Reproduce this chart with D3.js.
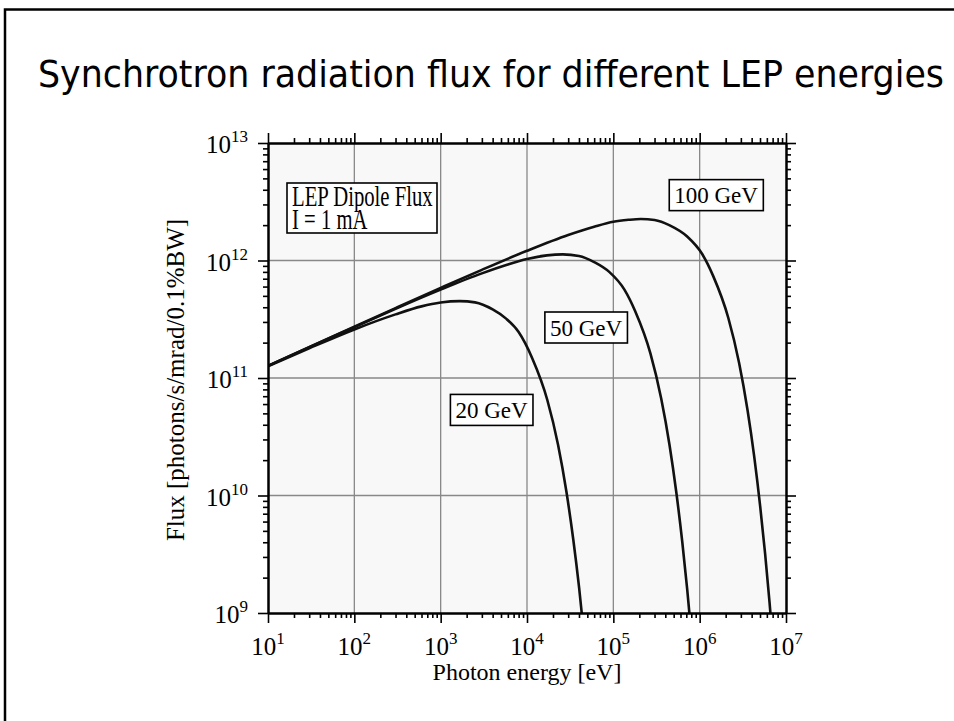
<!DOCTYPE html>
<html>
<head>
<meta charset="utf-8">
<script src="https://cdn.jsdelivr.net/npm/d3@7"></script>
<style>
  body { margin: 0; background: #fff; }
  svg { display: block; }
</style>
</head>
<body>
<div id="chart"></div>
<script>
// photon energy [eV] and flux [photons/s/mrad/0.1%BW]
var energy20 = [10, 30, 100, 300, 600, 1000, 1660, 2500, 4000, 5730, 8000, 11460, 17190, 22920, 28650, 34380, 40110, 45840]
var flux20 = [1.26e11, 1.79e11, 2.59e11, 3.48e11, 4.07e11, 4.39e11, 4.51e11, 4.40e11, 3.83e11, 3.20e11, 2.46e11, 1.48e11, 6.5e10, 2.69e10, 1.07e10, 4.2e9, 1.65e9, 6.4e8]

var energy50 = [10, 30, 100, 300, 1000, 3000, 6000, 10000, 17000, 26000, 40000, 60000, 89600, 134400, 179200, 268800, 358400, 448000, 537600, 627200, 716800, 806400]
var flux50 = [1.27e11, 1.83e11, 2.71e11, 3.88e11, 5.65e11, 7.77e11, 9.25e11, 1.03e12, 1.106e12, 1.128e12, 1.093e12, 9.7e11, 8.0e11, 5.65e11, 3.7e11, 1.62e11, 6.7e10, 2.68e10, 1.05e10, 4.1e9, 1.6e9, 6.2e8]

var energy100 = [10, 30, 100, 300, 1000, 3000, 10000, 30000, 60000, 100000, 150000, 208000, 300000, 450000, 716000, 1074000, 1432000, 2148000, 2864000, 3580000, 4296000, 5012000, 5728000, 6444000, 7160000]
var flux100 = [1.27e11, 1.83e11, 2.73e11, 3.93e11, 5.84e11, 8.33e11, 1.21e12, 1.65e12, 1.94e12, 2.14e12, 2.22e12, 2.255e12, 2.21e12, 1.99e12, 1.60e12, 1.13e12, 7.4e11, 3.24e11, 1.34e11, 5.36e10, 2.11e10, 8.2e9, 3.2e9, 1.24e9, 4.8e8]

var seriesNames = ['20 GeV', '50 GeV', '100 GeV']
var labelAt = [[3.88e3, 5.35e10], [4.82e4, 2.69e11], [1.55e6, 3.6e12]]   // where each curve label sits
var xExponents = [1, 2, 3, 4, 5, 6, 7]
var yExponents = [9, 10, 11, 12, 13]
var legendLines = ['LEP Dipole Flux', 'I = 1 mA']

var W = 954, H = 721
var margin = {left: 268, top: 143}
var width = 518, height = 470

var svg = d3.select('#chart').append('svg')
    .attr('width', W)
    .attr('height', H)

// slide frame
svg.append('path')
    .attr('d', 'M5,' + H + 'V9.5H' + W)
    .attr('fill', 'none')
    .attr('stroke', '#000')
    .attr('stroke-width', 2.5)

svg.append('text')
    .attr('x', 491)
    .attr('y', 87)
    .attr('text-anchor', 'middle')
    .attr('font-family', '"DejaVu Sans Condensed", "DejaVu Sans", sans-serif')
    .attr('font-size', 38)
    .attr('textLength', 906)
    .attr('lengthAdjust', 'spacingAndGlyphs')
    .text('Synchrotron radiation flux for different LEP energies')

var x = d3.scaleLog().domain([1e1, 1e7]).range([0, width])
var y = d3.scaleLog().domain([1e9, 1e13]).range([height, 0])

var g = svg.append('g')
    .attr('transform', 'translate(' + margin.left + ',' + margin.top + ')')

g.append('rect')
    .attr('width', width)
    .attr('height', height)
    .attr('fill', '#f8f8f8')

// grid at every decade
g.selectAll('.vgrid')
    .data(xExponents.slice(1, -1))
    .enter()
    .append('line')
    .attr('x1', function(d) { return x(Math.pow(10, d)) })
    .attr('x2', function(d) { return x(Math.pow(10, d)) })
    .attr('y1', 0)
    .attr('y2', height)
    .attr('stroke', '#888')
    .attr('stroke-width', 1.3)

g.selectAll('.hgrid')
    .data(yExponents.slice(1, -1))
    .enter()
    .append('line')
    .attr('y1', function(d) { return y(Math.pow(10, d)) })
    .attr('y2', function(d) { return y(Math.pow(10, d)) })
    .attr('x1', 0)
    .attr('x2', width)
    .attr('stroke', '#888')
    .attr('stroke-width', 1.3)

// curves
g.append('clipPath').attr('id', 'clip')
    .append('rect').attr('width', width).attr('height', height)

var line = d3.line()
    .x(function(d) { return x(d[0]) })
    .y(function(d) { return y(d[1]) })
    .curve(d3.curveMonotoneX)

var series = [d3.zip(energy20, flux20), d3.zip(energy50, flux50), d3.zip(energy100, flux100)]

g.append('g')
    .attr('clip-path', 'url(#clip)')
    .selectAll('path')
    .data(series)
    .enter()
    .append('path')
    .attr('d', line)
    .attr('fill', 'none')
    .attr('stroke', '#111')
    .attr('stroke-width', 2.6)

// axes: major ticks 10px, minor 5px, all pointing out
var minorX = [], minorY = []
xExponents.slice(0, -1).forEach(function(e) {
    for (var k = 2; k < 10; k++) minorX.push(k * Math.pow(10, e))
})
yExponents.slice(0, -1).forEach(function(e) {
    for (var k = 2; k < 10; k++) minorY.push(k * Math.pow(10, e))
})
var majorX = xExponents.map(function(e) { return Math.pow(10, e) })
var majorY = yExponents.map(function(e) { return Math.pow(10, e) })

function drawAxis(axisFn, scale, pos, values, size) {
    var a = g.append('g')
        .attr('transform', pos)
        .call(axisFn(scale).tickValues(values).tickSize(size).tickSizeOuter(0).tickFormat(''))
    a.select('.domain').attr('stroke-width', 2)
    a.selectAll('.tick line').attr('stroke-width', 1.6)
}
drawAxis(d3.axisBottom, x, 'translate(0,' + height + ')', minorX, 5)
drawAxis(d3.axisBottom, x, 'translate(0,' + height + ')', majorX, 10)
drawAxis(d3.axisTop, x, 'translate(0,0)', minorX, 5)
drawAxis(d3.axisTop, x, 'translate(0,0)', majorX, 10)
drawAxis(d3.axisLeft, y, 'translate(0,0)', minorY, 5)
drawAxis(d3.axisLeft, y, 'translate(0,0)', majorY, 10)
drawAxis(d3.axisRight, y, 'translate(' + width + ',0)', minorY, 5)
drawAxis(d3.axisRight, y, 'translate(' + width + ',0)', majorY, 10)

var serif = '"Liberation Serif", "Times New Roman", serif'

// tick labels as 10 with a superscript
var xl = g.selectAll('.xlab')
    .data(xExponents)
    .enter()
    .append('text')
    .attr('x', function(d) { return x(Math.pow(10, d)) })
    .attr('y', height + 42)
    .attr('text-anchor', 'middle')
    .attr('font-family', serif)
    .attr('font-size', 25)
xl.append('tspan').text('10')
xl.append('tspan').attr('dy', -11).attr('font-size', 17).text(function(d) { return d })

var yl = g.selectAll('.ylab')
    .data(yExponents)
    .enter()
    .append('text')
    .attr('x', -20)
    .attr('y', function(d) { return y(Math.pow(10, d)) + 10 })
    .attr('text-anchor', 'end')
    .attr('font-family', serif)
    .attr('font-size', 25)
yl.append('tspan').text('10')
yl.append('tspan').attr('dy', -11).attr('font-size', 17).text(function(d) { return d })

g.append('text')
    .attr('x', width / 2)
    .attr('y', height + 67)
    .attr('text-anchor', 'middle')
    .attr('font-family', serif)
    .attr('font-size', 24)
    .text('Photon energy [eV]')

g.append('text')
    .attr('transform', 'translate(-84,' + (height / 2 + 2) + ') rotate(-90)')
    .attr('text-anchor', 'middle')
    .attr('font-family', serif)
    .attr('font-size', 25)
    .text('Flux [photons/s/mrad/0.1%BW]')

// boxed labels for each curve
var lab = g.selectAll('.curvelabel')
    .data(seriesNames)
    .enter()
    .append('g')
    .attr('transform', function(d, i) { return 'translate(' + x(labelAt[i][0]) + ',' + y(labelAt[i][1]) + ')' })
lab.append('text')
    .attr('text-anchor', 'middle')
    .attr('y', 8)
    .attr('font-family', serif)
    .attr('font-size', 23)
    .text(function(d) { return d })
lab.each(function() {
    var b = d3.select(this).select('text').node().getBBox()
    d3.select(this).insert('rect', 'text')
        .attr('x', b.x - 5)
        .attr('y', -15.5)
        .attr('width', b.width + 10)
        .attr('height', 31)
        .attr('fill', '#fff')
        .attr('stroke', '#000')
        .attr('stroke-width', 1.6)
})

// legend box, text squeezed a little to fit like the original
var leg = g.append('g').attr('transform', 'translate(19,40)')
leg.append('rect')
    .attr('width', 150)
    .attr('height', 50)
    .attr('fill', '#fff')
    .attr('stroke', '#000')
    .attr('stroke-width', 1.6)
var lt = leg.append('g')
lt.selectAll('text')
    .data(legendLines)
    .enter()
    .append('text')
    .attr('y', function(d, i) { return 23 + i * 23 })
    .attr('font-family', serif)
    .attr('font-size', 29)
    .text(function(d) { return d })
var lw = lt.node().getBBox().width
lt.attr('transform', 'translate(5,0) scale(' + (141 / lw) + ',1)')
</script>
</body>
</html>
